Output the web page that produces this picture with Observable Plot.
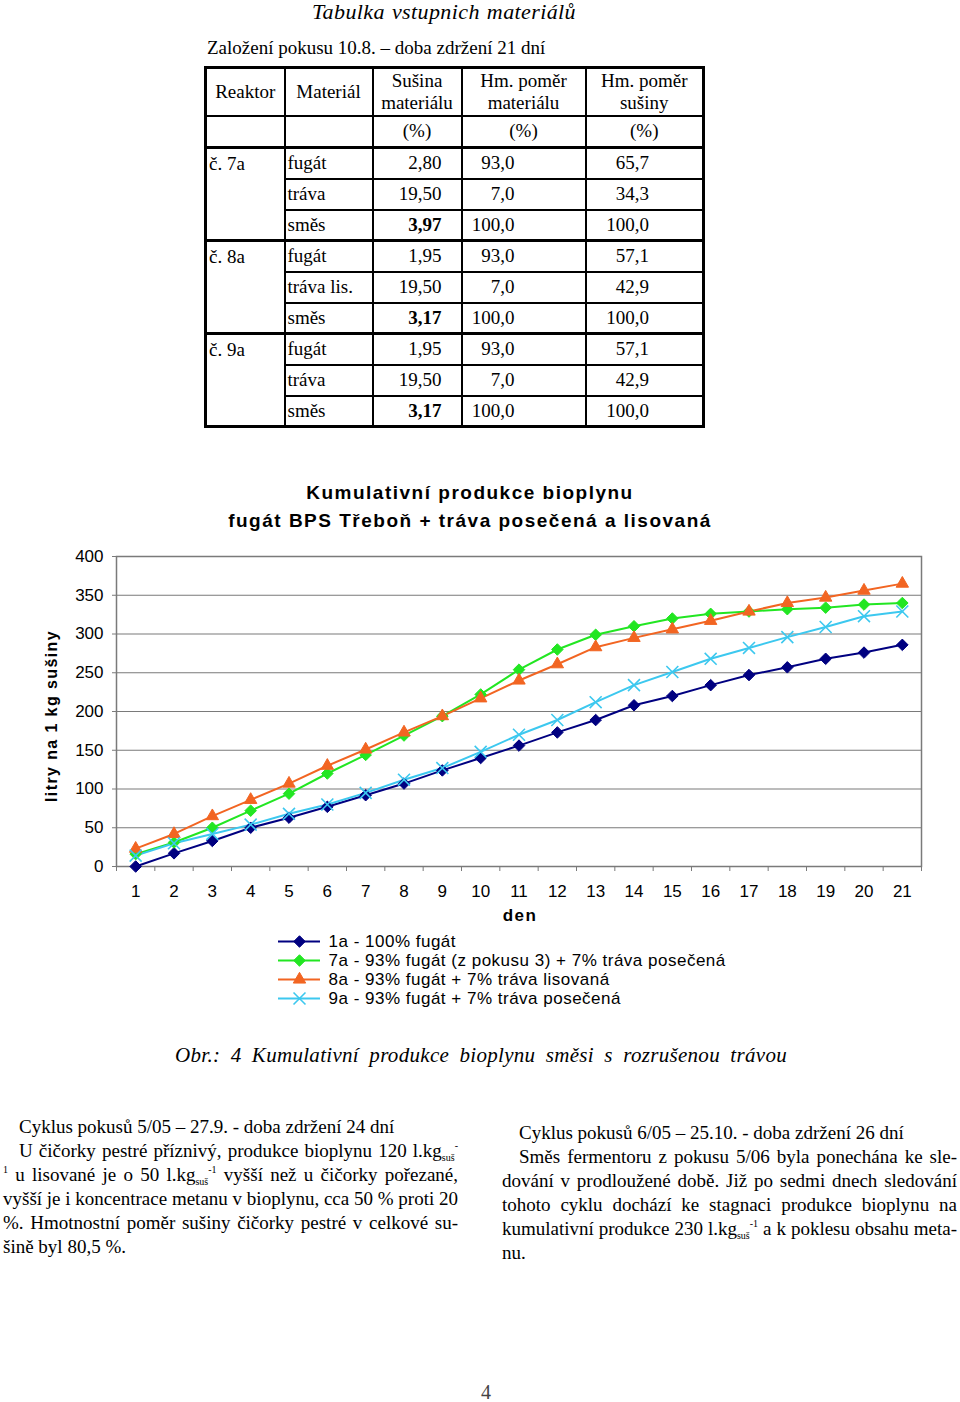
<!DOCTYPE html>
<html><head><meta charset="utf-8">
<script src="https://cdn.jsdelivr.net/npm/d3@7"></script>
<script src="https://cdn.jsdelivr.net/npm/@observablehq/plot@0.6"></script>
<style>
body{margin:0;background:#fff;}
#page{position:relative;width:960px;height:1402px;font-family:"Liberation Serif",serif;color:#000;overflow:hidden;background:#fff}
.abs{position:absolute;white-space:nowrap}
.sans{font-family:"Liberation Sans",Arial,sans-serif}
.j{text-align:justify;text-align-last:justify}
.txt{font-size:19px;line-height:24px;letter-spacing:0px}
.txt sub{font-size:10px;vertical-align:-4px;line-height:0}
.txt sup{font-size:10px;vertical-align:8px;line-height:0}
table{position:absolute;left:204px;top:66px;border-collapse:collapse;border:3px solid #000;font-size:19px;line-height:22px}
td{border:2px solid #000;padding:0;white-space:nowrap}
td.l{text-align:left;padding-left:2px}
td.c{text-align:center}
td.r1{text-align:right;padding-right:19px}
td.r2{text-align:right;padding-right:70px}
td.r3{text-align:right;padding-right:53px}
tr.g td{border-top:3px solid #000}
</style></head><body><div id="page"></div>
<script>
// ---- chart data ----
const days = [1, 2, 3, 4, 5, 6, 7, 8, 9, 10, 11, 12, 13, 14, 15, 16, 17, 18, 19, 20, 21];
const seriesNames = [
  "1a - 100% fugát",
  "7a - 93% fugát (z pokusu 3) + 7% tráva posečená",
  "8a - 93% fugát + 7% tráva lisovaná",
  "9a - 93% fugát + 7% tráva posečená"
];
const values1a = [0, 17, 33, 50, 63, 77, 92, 107, 124, 140, 156, 173, 189, 208, 220, 234, 247, 257, 268, 276, 286];
const values7a = [16, 31, 50, 72, 94, 120, 144, 169, 194, 222, 254, 280, 299, 310, 320, 326, 329, 332, 334, 338, 340];
const values8a = [23, 42, 65, 86, 107, 130, 151, 173, 194, 217, 240, 261, 283, 295, 306, 317, 329, 340, 347, 356, 365];
const values9a = [14, 30, 42, 54, 68, 80, 95, 112, 127, 148, 170, 189, 212, 234, 251, 268, 282, 296, 309, 323, 329];
const yTicks = [0, 50, 100, 150, 200, 250, 300, 350, 400];
const seriesColors = ["#000080", "#22e622", "#f26522", "#3cc8ef"];
const seriesSymbols = ["diamond2", "diamond2", "triangle", "times"];
const seriesRadius = [5.2, 5.2, 4.6, 5.5];

// ---- table data ----
const tableHeader = ["Reaktor", "Materiál", "Sušina<br>materiálu", "Hm. poměr<br>materiálu", "Hm. poměr<br>sušiny"];
const tableUnits = ["", "", "(%)", "(%)", "(%)"];
const reaktory = ["č. 7a", "č. 8a", "č. 9a"];
const materialy = [["fugát", "tráva", "směs"], ["fugát", "tráva lis.", "směs"], ["fugát", "tráva", "směs"]];
const susina = [["2,80", "19,50", "3,97"], ["1,95", "19,50", "3,17"], ["1,95", "19,50", "3,17"]];
const pomerMaterialu = [["93,0", "7,0", "100,0"], ["93,0", "7,0", "100,0"], ["93,0", "7,0", "100,0"]];
const pomerSusiny = [["65,7", "34,3", "100,0"], ["57,1", "42,9", "100,0"], ["57,1", "42,9", "100,0"]];

const page = document.getElementById("page");
function addDiv(html, css, cls) {
  const d = document.createElement("div");
  d.className = "abs " + (cls || "");
  d.innerHTML = html;
  d.style.cssText = css;
  page.appendChild(d);
  return d;
}

// ---- headings ----
addDiv("Tabulka vstupnich materiálů", "left:312px;top:0px;width:264px;font-size:22px;line-height:24px;font-style:italic;letter-spacing:0.4px;", "j");
addDiv("Založení pokusu 10.8. – doba zdržení 21 dní", "left:207px;top:36px;font-size:19px;line-height:24px;");

// ---- table ----
let html = "<colgroup><col style='width:79px'><col style='width:88px'><col style='width:89px'><col style='width:124px'><col style='width:118px'></colgroup>";
html += "<tr style='height:48px'>" + tableHeader.map(h => `<td class='c'>${h}</td>`).join("") + "</tr>";
html += "<tr style='height:32px'>" + tableUnits.map(u => `<td class='c'>${u}</td>`).join("") + "</tr>";
reaktory.forEach((r, gi) => {
  materialy[gi].forEach((m, ri) => {
    const bold = ri === 2;
    html += `<tr class='${ri === 0 ? "g" : ""}' style='height:31px'>`;
    if (ri === 0) html += `<td class='l' rowspan='3' style='vertical-align:top;padding-top:4px'>${r}</td>`;
    html += `<td class='l'>${m}</td>`;
    html += `<td class='r1'>${bold ? "<b>" + susina[gi][ri] + "</b>" : susina[gi][ri]}</td>`;
    html += `<td class='r2'>${pomerMaterialu[gi][ri]}</td>`;
    html += `<td class='r3'>${pomerSusiny[gi][ri]}</td>`;
    html += "</tr>";
  });
});
const table = document.createElement("table");
table.innerHTML = html;
page.appendChild(table);

// ---- chart title ----
addDiv("Kumulativní produkce bioplynu", "left:0;width:940px;text-align:center;top:481px;font-size:19px;line-height:24px;font-weight:bold;letter-spacing:1.5px;", "sans");
addDiv("fugát BPS Třeboň + tráva posečená a lisovaná", "left:0;width:940px;text-align:center;top:509px;font-size:19px;line-height:24px;font-weight:bold;letter-spacing:1.5px;", "sans");

// ---- main chart ----
const allValues = [values1a, values7a, values8a, values9a];
const boundaries = [0, ...days].map(d => d + 0.5);
const chartMarks = [
  Plot.gridY(yTicks, {stroke: "#7a7a7a", strokeOpacity: 1, strokeWidth: 1.2}),
  Plot.frame({stroke: "#7a7a7a", strokeWidth: 1.5}),
  Plot.axisY({ticks: yTicks, tickSize: 4, tickPadding: 9, label: null, stroke: "#7a7a7a"}),
  Plot.axisX({ticks: days, tickSize: 0, tickPadding: 18, label: null, tickFormat: d => String(d)}),
  Plot.axisX({ticks: boundaries, tickSize: 5, tickFormat: () => "", label: null, stroke: "#7a7a7a"})
];
allValues.forEach((vals, si) => {
  chartMarks.push(Plot.line(days, {x: d => d, y: (d, i) => vals[i], stroke: seriesColors[si], strokeWidth: 2}));
});
allValues.forEach((vals, si) => {
  const sym = seriesSymbols[si];
  chartMarks.push(Plot.dot(days, {x: d => d, y: (d, i) => vals[i], symbol: sym, r: seriesRadius[si],
    fill: sym === "times" ? "none" : seriesColors[si], stroke: seriesColors[si], strokeWidth: sym === "times" ? 1.6 : 1}));
});
const chart = Plot.plot({
  width: 960, height: 400,
  marginLeft: 116, marginRight: 39, marginTop: 16, marginBottom: 74,
  style: {fontFamily: "'Liberation Sans', Arial, sans-serif", fontSize: "17px", color: "#000", background: "transparent", overflow: "visible"},
  x: {type: "linear", domain: [0.5, 21.5]},
  y: {domain: [0, 400]},
  marks: chartMarks
});
chart.style.position = "absolute";
chart.style.left = "0px";
chart.style.top = "540px";
page.appendChild(chart);

addDiv("litry na 1 kg sušiny", "left:52px;top:716px;transform:translate(-50%,-50%) rotate(-90deg);font-size:16px;font-weight:bold;letter-spacing:1.4px;line-height:20px;", "sans");
addDiv("den", "left:520px;top:916px;transform:translate(-50%,-50%);font-size:17px;font-weight:bold;letter-spacing:1.5px;line-height:20px;", "sans");

// ---- legend ----
const legendMarks = [];
seriesNames.forEach((name, si) => {
  legendMarks.push(Plot.ruleY([name], {y: d => d, x1: 0, x2: 1, stroke: seriesColors[si], strokeWidth: 2}));
  const sym = seriesSymbols[si];
  legendMarks.push(Plot.dot([name], {x: 0.5, y: d => d, symbol: sym, r: seriesRadius[si],
    fill: sym === "times" ? "none" : seriesColors[si], stroke: seriesColors[si], strokeWidth: sym === "times" ? 1.6 : 1}));
  legendMarks.push(Plot.text([name], {x: 1, y: d => d, text: d => d, textAnchor: "start", dx: 8, fill: "#000"}));
});
const legend = Plot.plot({
  width: 470, height: 80, marginLeft: 8, marginRight: 420, marginTop: 10, marginBottom: 13,
  style: {fontFamily: "'Liberation Sans', Arial, sans-serif", fontSize: "17px", color: "#000", background: "transparent", overflow: "visible", letterSpacing: "0.5px"},
  x: {domain: [0, 1], axis: null},
  y: {type: "point", domain: seriesNames, padding: 0, axis: null},
  marks: legendMarks
});
legend.style.position = "absolute";
legend.style.left = "270px";
legend.style.top = "931px";
page.appendChild(legend);

// ---- caption ----
addDiv("Obr.: 4 Kumulativní produkce bioplynu směsi s rozrušenou trávou", "left:175px;top:1042px;width:612px;font-size:21px;line-height:26px;font-style:italic;letter-spacing:0.3px;", "j");

// ---- text columns ----
const leftLines = [
  [19, 0, "Cyklus pokusů 5/05 – 27.9. - doba zdržení 24 dní"],
  [19, 439, "U čičorky pestré příznivý, produkce bioplynu 120 l.kg<sub>suš</sub><sup>-</sup>"],
  [3, 455, "<sup>1</sup> u lisované je o 50 l.kg<sub>suš</sub><sup>-1</sup> vyšší než u čičorky pořezané,"],
  [3, 455, "vyšší je i koncentrace metanu v bioplynu, cca 50 % proti 20"],
  [3, 455, "%. Hmotnostní poměr sušiny čičorky pestré v celkové su-"],
  [3, 0, "šině byl 80,5 %."]
];
const rightLines = [
  [519, 0, "Cyklus pokusů 6/05 – 25.10. - doba zdržení 26 dní"],
  [519, 438, "Směs fermentoru z pokusu 5/06 byla ponechána ke sle-"],
  [502, 455, "dování v prodloužené době. Již po sedmi dnech sledování"],
  [502, 455, "tohoto cyklu dochází ke stagnaci produkce bioplynu na"],
  [502, 455, "kumulativní produkce 230 l.kg<sub>suš</sub><sup>-1</sup> a k poklesu obsahu meta-"],
  [502, 0, "nu."]
];
leftLines.forEach(([x, w, t], i) => {
  addDiv(t, `left:${x}px;top:${1115 + i * 24}px;` + (w ? `width:${w}px;` : ""), "txt " + (w ? "j" : ""));
});
rightLines.forEach(([x, w, t], i) => {
  addDiv(t, `left:${x}px;top:${1121 + i * 24}px;` + (w ? `width:${w}px;` : ""), "txt " + (w ? "j" : ""));
});

addDiv("4", "left:481px;top:1382px;font-size:20px;line-height:20px;color:#444;");
</script>
</body></html>
